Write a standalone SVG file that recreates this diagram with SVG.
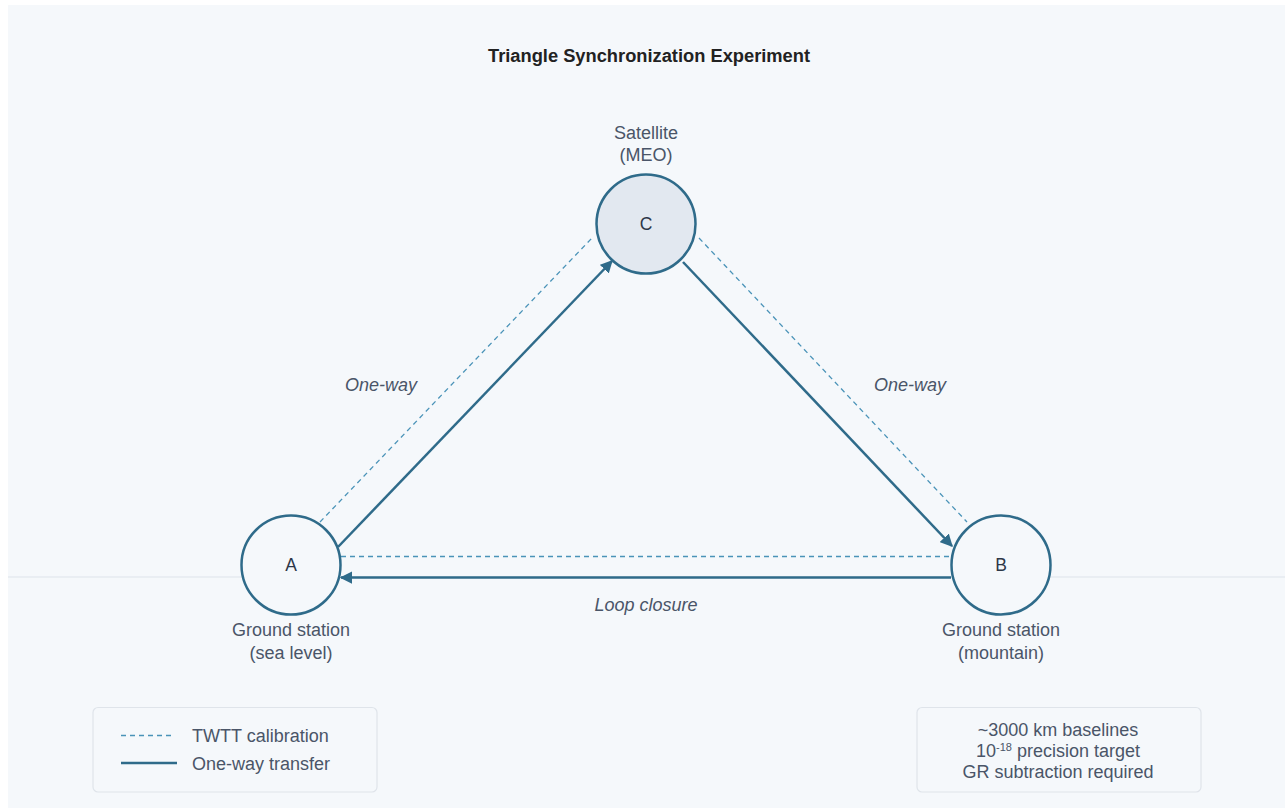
<svg xmlns="http://www.w3.org/2000/svg" width="1285" height="810" viewBox="0 0 1285 810">
<defs>
<style>
.t{font-family:"Liberation Sans",Arial,sans-serif;fill:#4a5568;font-size:18px;text-anchor:middle}
.lbl{font-family:"Liberation Sans",Arial,sans-serif;fill:#2d3748;font-size:17.5px;text-anchor:middle}
.it{font-style:italic}
.node{stroke:#2f6b8a;stroke-width:2.5}
.solid{stroke:#2f6b8a;stroke-width:2.5;fill:none}
.dash{stroke:#4a93b8;stroke-width:1.3;stroke-dasharray:5 4;fill:none}
.box{fill:#f5f8fb;stroke:#dfe4ea;stroke-width:1.2}
</style>
<marker id="ah" viewBox="0 0 10 10" refX="9" refY="5" markerWidth="5" markerHeight="5" markerUnits="strokeWidth" orient="auto">
<path d="M0,0 L10,5 L0,10 z" fill="#2f6b8a"/>
</marker>
</defs>
<rect width="1285" height="810" fill="#ffffff"/>
<rect x="8" y="5" width="1277" height="803" fill="#f5f8fb"/>
<line x1="8" y1="577" x2="1285" y2="577" stroke="#dde3ea" stroke-width="1"/>
<text class="lbl" x="649" y="62" style="font-weight:bold;font-size:18.3px;fill:#222">Triangle Synchronization Experiment</text>
<g id="connectors">
<line class="dash" x1="320" y1="522" x2="592" y2="238"/>
<line class="solid" x1="338" y1="547" x2="612" y2="261" marker-end="url(#ah)"/>
<line class="dash" x1="699" y1="238" x2="967" y2="522"/>
<line class="solid" x1="683" y1="262" x2="952" y2="546" marker-end="url(#ah)"/>
<line class="dash" x1="341" y1="556.5" x2="951" y2="556.5"/>
<line class="solid" x1="951" y1="577.5" x2="341" y2="577.5" marker-end="url(#ah)"/>
<text class="t it" x="381" y="391">One-way</text>
<text class="t it" x="910" y="391">One-way</text>
<text class="t it" x="646" y="611">Loop closure</text>
</g>
<g id="node-C">
<circle class="node" cx="646" cy="224" r="49.5" fill="#e2e8f0"/>
<text class="lbl" x="646" y="230">C</text>
<text class="t" x="646" y="139">Satellite</text>
<text class="t" x="646" y="161">(MEO)</text>
</g>
<g id="node-A">
<circle class="node" cx="291" cy="565" r="49.5" fill="#f5f8fb"/>
<text class="lbl" x="291" y="571">A</text>
<text class="t" x="291" y="636">Ground station</text>
<text class="t" x="291" y="659">(sea level)</text>
</g>
<g id="node-B">
<circle class="node" cx="1001" cy="565" r="49.5" fill="#f5f8fb"/>
<text class="lbl" x="1001" y="571">B</text>
<text class="t" x="1001" y="636">Ground station</text>
<text class="t" x="1001" y="659">(mountain)</text>
</g>
<g id="legend">
<rect class="box" x="93" y="707.5" width="284" height="84.5" rx="5"/>
<line class="dash" x1="121" y1="735.5" x2="172" y2="735.5"/>
<line class="solid" x1="121" y1="763" x2="177" y2="763"/>
<text class="t" x="192" y="742" style="text-anchor:start">TWTT calibration</text>
<text class="t" x="192" y="770" style="text-anchor:start">One-way transfer</text>
</g>
<g id="info">
<rect class="box" x="917" y="707.5" width="284" height="84.5" rx="5"/>
<text class="t" x="1058" y="736">~3000 km baselines</text>
<text class="t" x="1058" y="757">10<tspan dy="-6" font-size="11">-18</tspan><tspan dy="6"> precision target</tspan></text>
<text class="t" x="1058" y="778">GR subtraction required</text>
</g>
</svg>
